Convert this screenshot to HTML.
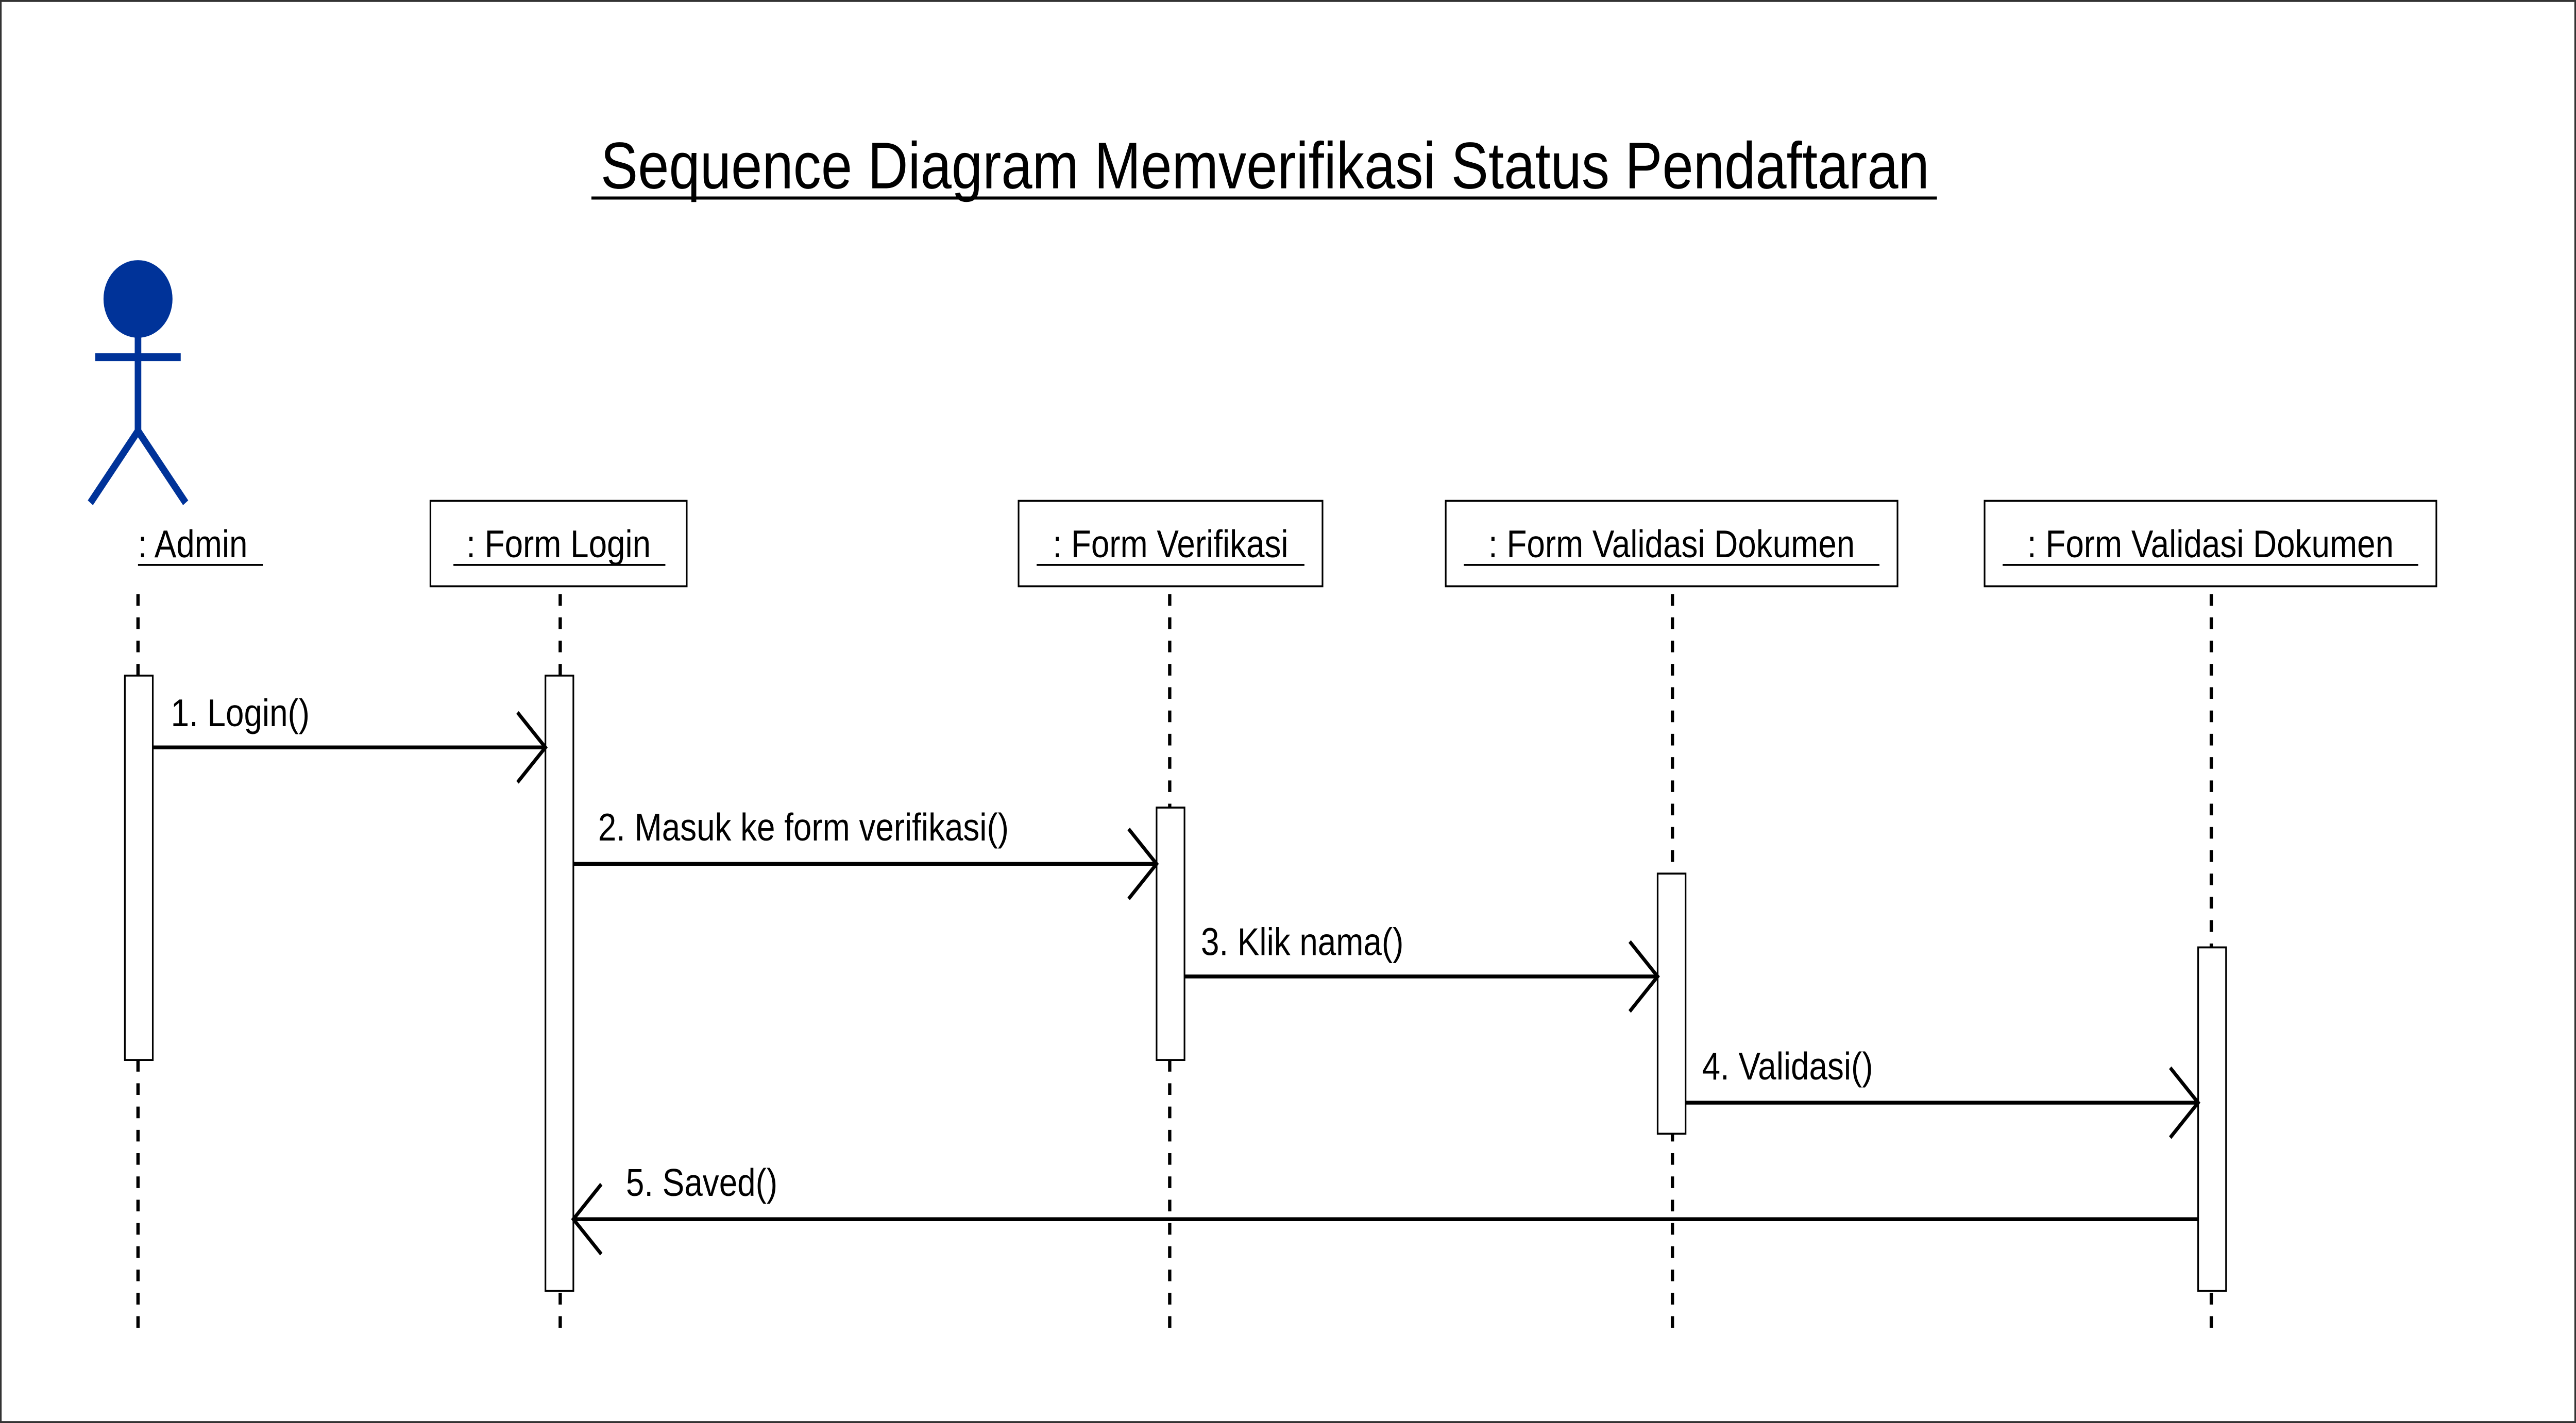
<!DOCTYPE html>
<html><head><meta charset="utf-8"><style>
html,body{margin:0;padding:0;background:#fff;width:100%;height:100%;overflow:hidden;}
svg{display:block;position:fixed;left:0;top:0;width:100vw;height:100vh;}
text{font-family:"Liberation Sans",sans-serif;fill:#000;}
</style></head><body>
<svg viewBox="0 0 1568 733" preserveAspectRatio="none" xmlns="http://www.w3.org/2000/svg">
<rect x="0.5" y="0.5" width="1567" height="732" fill="#fff" stroke="#333" stroke-width="1"/>
<text x="770" y="97" font-size="34" text-anchor="middle">Sequence Diagram Memverifikasi Status Pendaftaran</text>
<line x1="360" y1="102" x2="1179" y2="102" stroke="#000" stroke-width="1.6"/>
<g stroke="#003399" stroke-width="4" fill="none">
<line x1="84" y1="170" x2="84" y2="222"/>
<line x1="58" y1="184" x2="110" y2="184"/>
<line x1="84" y1="222" x2="55" y2="259"/>
<line x1="84" y1="222" x2="113" y2="259"/>
</g>
<ellipse cx="84" cy="154" rx="21" ry="20" fill="#003399"/>
<text x="84" y="287" font-size="20">: Admin</text>
<line x1="84" y1="291" x2="160" y2="291" stroke="#000" stroke-width="1"/>
<g fill="#fff" stroke="#000" stroke-width="1">
<rect x="262" y="258" width="156" height="44"/>
<rect x="620" y="258" width="185" height="44"/>
<rect x="880" y="258" width="275" height="44"/>
<rect x="1208" y="258" width="275" height="44"/>
</g>
<g font-size="20" text-anchor="middle">
<text x="340" y="287">: Form Login</text>
<text x="712.5" y="287">: Form Verifikasi</text>
<text x="1017.5" y="287">: Form Validasi Dokumen</text>
<text x="1345.5" y="287">: Form Validasi Dokumen</text>
</g>
<g stroke="#000" stroke-width="1">
<line x1="276" y1="291" x2="405" y2="291"/>
<line x1="631" y1="291" x2="794" y2="291"/>
<line x1="891" y1="291" x2="1144" y2="291"/>
<line x1="1219" y1="291" x2="1472" y2="291"/>
</g>
<g stroke="#000" stroke-width="2" stroke-dasharray="6,6">
<line x1="84" y1="306" x2="84" y2="690"/>
<line x1="341" y1="306" x2="341" y2="690"/>
<line x1="712" y1="306" x2="712" y2="690"/>
<line x1="1018" y1="306" x2="1018" y2="690"/>
<line x1="1346" y1="306" x2="1346" y2="690"/>
</g>
<g fill="#fff" stroke="#000" stroke-width="1">
<rect x="76" y="348" width="17" height="198"/>
<rect x="332" y="348" width="17" height="317"/>
<rect x="704" y="416" width="17" height="130"/>
<rect x="1009" y="450" width="17" height="134"/>
<rect x="1338" y="488" width="17" height="177"/>
</g>
<g stroke="#000" stroke-width="2" fill="none">
<line x1="93" y1="385" x2="332" y2="385"/><polyline points="315,367 332,385 315,403"/>
<line x1="349" y1="445" x2="704" y2="445"/><polyline points="687,427 704,445 687,463"/>
<line x1="721" y1="503" x2="1009" y2="503"/><polyline points="992,485 1009,503 992,521"/>
<line x1="1026" y1="568" x2="1338" y2="568"/><polyline points="1321,550 1338,568 1321,586"/>
<line x1="1338" y1="628" x2="349" y2="628"/><polyline points="366,610 349,628 366,646"/>
</g>
<g font-size="20">
<text x="104" y="374">1. Login()</text>
<text x="364" y="433">2. Masuk ke form verifikasi()</text>
<text x="731" y="492">3. Klik nama()</text>
<text x="1036" y="556">4. Validasi()</text>
<text x="381" y="616">5. Saved()</text>
</g>
</svg>
</body></html>
